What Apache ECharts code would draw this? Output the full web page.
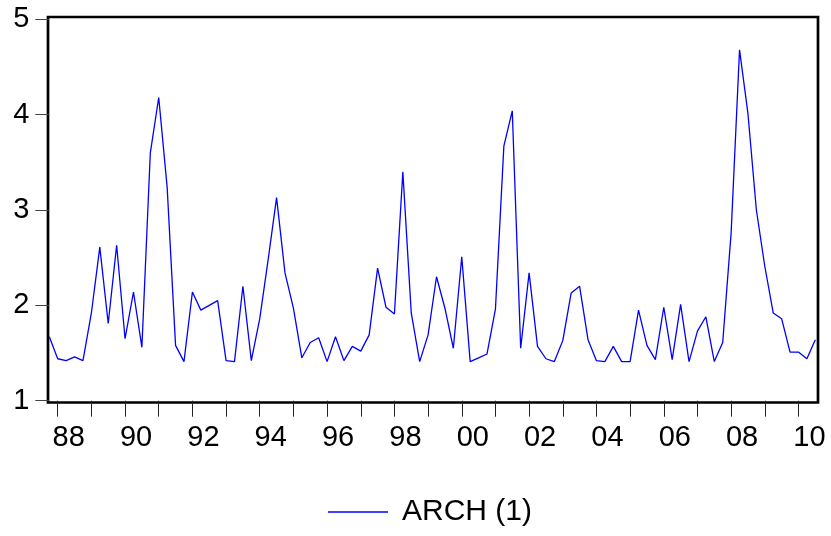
<!DOCTYPE html>
<html>
<head>
<meta charset="utf-8">
<script src="https://cdn.jsdelivr.net/npm/echarts@6/dist/echarts.min.js"></script>
<style>
  html, body { margin: 0; padding: 0; background: #fff; }
  #chart { width: 831px; height: 536px; }
</style>
</head>
<body>
<div id="chart"></div>
<script>
// quarterly series, 1987Q4 .. 2010Q3
const startYear = 1987, startQuarter = 4;
const arch1 = [
  1.67, 1.44, 1.42, 1.46, 1.42, 1.92, 2.61, 1.81, 2.63, 1.65,
  2.14, 1.56, 3.60, 4.18, 3.24, 1.58, 1.41, 2.14, 1.95, 2.00,
  2.05, 1.42, 1.41, 2.20, 1.42, 1.86, 2.48, 3.13, 2.34, 1.97,
  1.45, 1.61, 1.66, 1.41, 1.67, 1.42, 1.57, 1.52, 1.69, 2.39,
  1.98, 1.91, 3.40, 1.92, 1.41, 1.69, 2.30, 1.97, 1.55, 2.51,
  1.41, 1.45, 1.49, 1.96, 3.67, 4.04, 1.55, 2.34, 1.57, 1.44,
  1.41, 1.63, 2.13, 2.20, 1.64, 1.42, 1.41, 1.57, 1.41, 1.41,
  1.95, 1.58, 1.43, 1.98, 1.43, 2.01, 1.41, 1.73, 1.88, 1.41,
  1.61, 2.76, 4.68, 4.01, 3.00, 2.41, 1.92, 1.86, 1.51, 1.51,
  1.44, 1.64
];
const yTicks = [1, 2, 3, 4, 5];

// category names like 1988Q1
const quarters = [];
for (let i = 0; i < arch1.length; i++) {
  const q = startQuarter - 1 + i;
  quarters.push((startYear + Math.floor(q / 4)) + 'Q' + (q % 4 + 1));
}

const font = "'Liberation Sans', Arial, sans-serif";
const isQ1 = (idx, name) => /Q1$/.test(name);
const isEvenYearQ1 = (idx, name) => /Q1$/.test(name) && parseInt(name) % 2 === 0;

const myChart = echarts.init(document.getElementById('chart'));
const option = {
  animation: false,
  backgroundColor: '#fff',
  grid: [
    { left: 49.3, right: 15.7, top: 19.3, bottom: 135.3 },
    // frame only
    { left: 48, right: 13, top: 17, bottom: 133.5, show: true,
      borderColor: '#000', borderWidth: 2.7, backgroundColor: 'transparent' }
  ],
  xAxis: [
    {
      type: 'category',
      data: quarters,
      boundaryGap: false,
      axisLine: { show: false },
      axisTick: { show: true, interval: isQ1, length: 16, inside: false,
                  lineStyle: { color: '#222', width: 1 } },
      axisLabel: {
        interval: isEvenYearQ1,
        formatter: (v) => v.substring(2, 4),
        fontFamily: font, fontSize: 29, color: '#000',
        margin: 23, padding: [0, 0, 0, 22]
      },
      splitLine: { show: false }
    },
    { gridIndex: 1, type: 'value', show: false }
  ],
  yAxis: [
    {
      type: 'value',
      min: yTicks[0], max: yTicks[yTicks.length - 1], interval: 1,
      axisLine: { show: false },
      axisTick: { show: true, length: 14, lineStyle: { color: '#444', width: 1 } },
      axisLabel: { fontFamily: font, fontSize: 29, color: '#000', margin: 20 },
      splitLine: { show: false }
    },
    { gridIndex: 1, type: 'value', show: false }
  ],
  legend: {
    data: ['ARCH (1)'],
    left: 328,
    top: 497,
    padding: 0,
    icon: 'rect',
    itemWidth: 60,
    itemHeight: 1.5,
    textStyle: { fontFamily: font, fontSize: 30, color: '#000',
                 lineHeight: 30, padding: [0, 0, 0, 9] }
  },
  series: [
    {
      name: 'ARCH (1)',
      type: 'line',
      data: arch1,
      showSymbol: false,
      symbol: 'none',
      color: '#0000ff',
      lineStyle: { color: '#0000ff', width: 1.3 }
    }
  ]
};
option && myChart.setOption(option);
window.addEventListener('resize', () => {
  myChart.resize()
})
</script>
</body>
</html>
